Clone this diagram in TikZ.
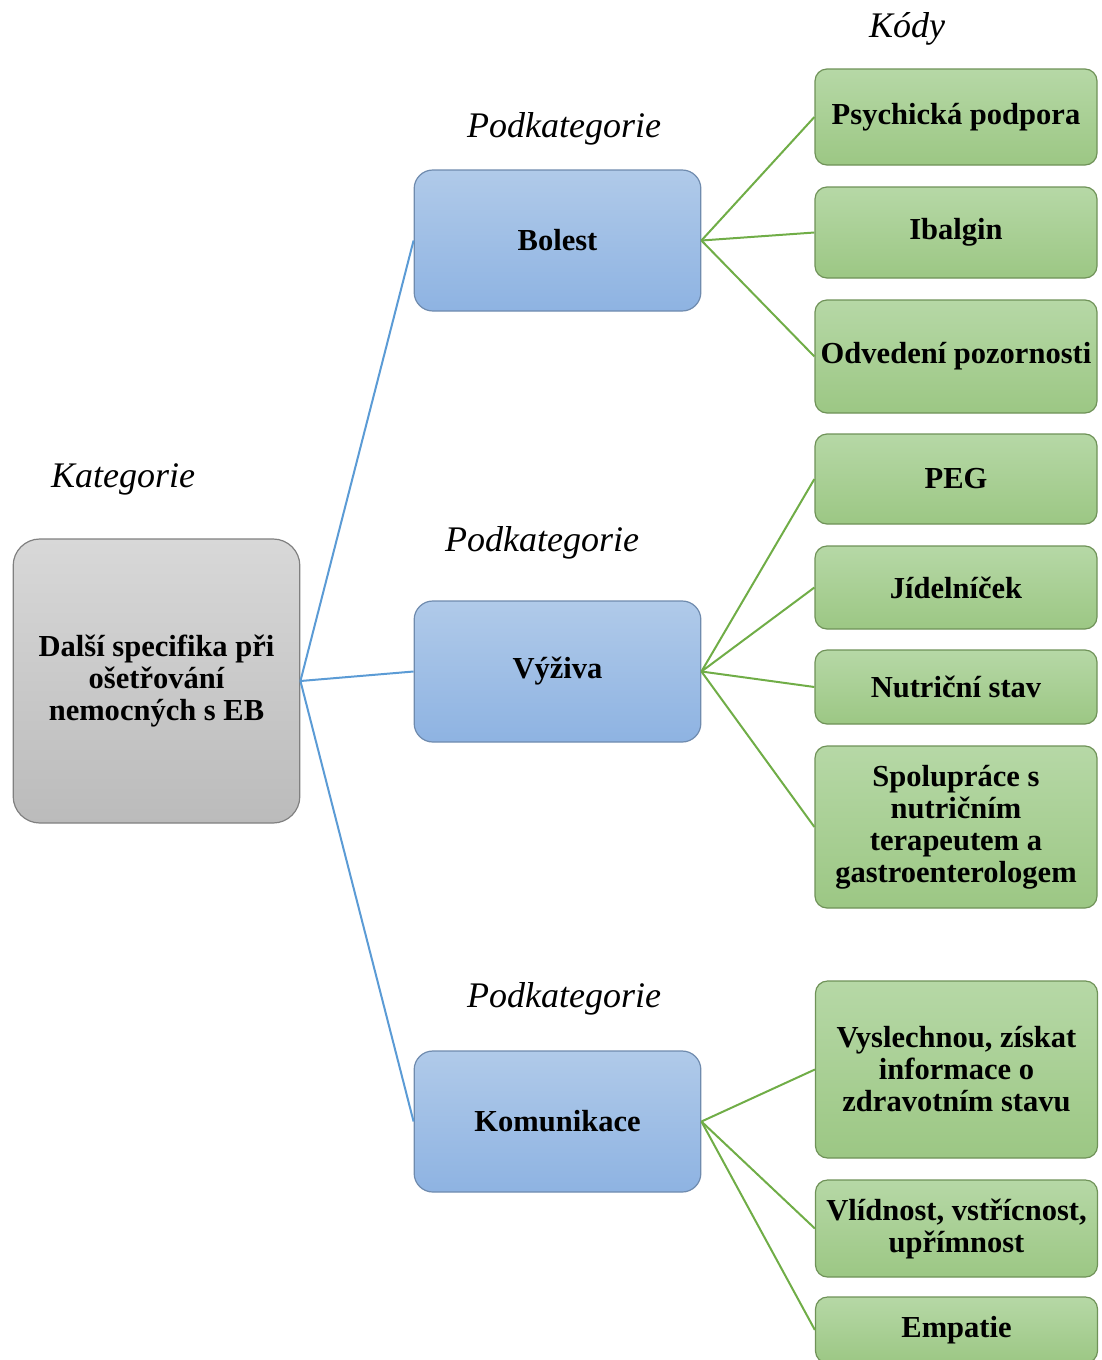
\documentclass[tikz,border=0pt]{standalone}
\usepackage{fontspec}
\setmainfont{Liberation Serif}
\definecolor{catTop}{HTML}{D8D8D8}
\definecolor{catBot}{HTML}{BBBBBB}
\definecolor{catLine}{HTML}{808080}
\definecolor{subTop}{HTML}{B0CAE9}
\definecolor{subBot}{HTML}{8EB3E2}
\definecolor{subLine}{HTML}{6F8BAE}
\definecolor{codeTop}{HTML}{B6D8A6}
\definecolor{codeBot}{HTML}{9CC784}
\definecolor{codeLine}{HTML}{6F9258}
\definecolor{linkBlue}{HTML}{5B9BD5}
\definecolor{linkGreen}{HTML}{70AD47}
\begin{document}
\begin{tikzpicture}[x=0.75pt,y=-0.75pt,
  box/.style={align=center, inner sep=2pt, line width=0.9pt,
    font=\fontsize{22.9}{24}\selectfont\bfseries},
  catbox/.style={box, draw=catLine, top color=catTop, bottom color=catBot,
    rounded corners=20pt, minimum width=215pt, minimum height=213pt},
  subbox/.style={box, draw=subLine, top color=subTop, bottom color=subBot,
    rounded corners=14pt, minimum width=215pt, minimum height=105.75pt},
  codebox/.style={box, draw=codeLine, top color=codeTop, bottom color=codeBot,
    rounded corners=9pt, minimum width=211.5pt},
  heading/.style={anchor=base, font=\fontsize{27}{30}\selectfont\itshape},
  bluelink/.style={draw=linkBlue, line width=1.5pt},
  greenlink/.style={draw=linkGreen, line width=1.5pt}
]
\useasboundingbox (0,0) rectangle (1101,1360);

% column headings
\node[heading] (hcat) at (123,487) {Kategorie};
\node[heading] (hsub1) at (564,137) {Podkategorie};
\node[heading] (hsub2) at (542,551) {Podkategorie};
\node[heading] (hsub3) at (564,1007) {Podkategorie};
\node[heading] (hcode) at (907,37) {Kódy};

% category
\node[catbox] (cat) at (156.5,681) {Další specifika při\\ošetřování\\nemocných s EB};

% subcategories
\node[subbox] (bolest) at (557.5,240.5) {Bolest};
\node[subbox] (vyziva) at (557.5,671.5) {Výživa};
\node[subbox] (komun) at (557.5,1121.5) {Komunikace};

% codes
\node[codebox, minimum height=72pt] (c1) at (956,117) {Psychická podpora};
\node[codebox, minimum height=68.25pt] (c2) at (956,232.5) {Ibalgin};
\node[codebox, minimum height=84.75pt] (c3) at (956,356.5) {Odvedení pozornosti};
\node[codebox, minimum height=67.5pt] (c4) at (956,479) {PEG};
\node[codebox, minimum height=62.25pt] (c5) at (956,587.5) {Jídelníček};
\node[codebox, minimum height=55.5pt] (c6) at (956,687) {Nutriční stav};
\node[codebox, minimum height=121.5pt] (c7) at (956,827) {Spolupráce s\\nutričním\\terapeutem a\\gastroenterologem};
\node[codebox, minimum height=132.75pt] (c8) at (956.5,1069.5) {Vyslechnou, získat\\informace o\\zdravotním stavu};
\node[codebox, minimum height=72.75pt] (c9) at (956.5,1228.5) {Vlídnost, vstřícnost,\\upřímnost};
\node[codebox, minimum height=49.5pt] (c10) at (956.5,1330) {Empatie};

% links
\draw[bluelink] (cat.east) -- (bolest.west);
\draw[bluelink] (cat.east) -- (vyziva.west);
\draw[bluelink] (cat.east) -- (komun.west);
\foreach \c in {c1,c2,c3} \draw[greenlink] (bolest.east) -- (\c.west);
\foreach \c in {c4,c5,c6,c7} \draw[greenlink] (vyziva.east) -- (\c.west);
\foreach \c in {c8,c9,c10} \draw[greenlink] (komun.east) -- (\c.west);
\end{tikzpicture}
\end{document}
